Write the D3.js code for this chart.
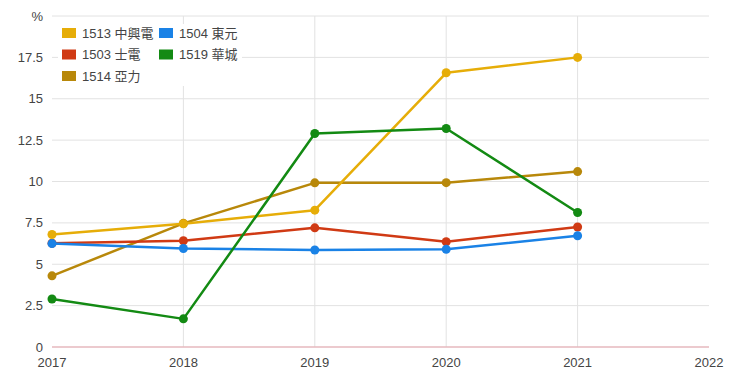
<!DOCTYPE html>
<html><head><meta charset="utf-8">
<script src="https://cdn.jsdelivr.net/npm/d3@7"></script>
<style>
body{margin:0;background:#fff;}
svg{display:block;font-family:Arial,"Liberation Sans","Noto Sans CJK TC",sans-serif;}
</style></head>
<body><svg id="c" width="740" height="377"></svg>
<script>
const years = [2017, 2018, 2019, 2020, 2021];
const xTicks = [2017, 2018, 2019, 2020, 2021, 2022];
const yTicks = [0, 2.5, 5, 7.5, 10, 12.5, 15, 17.5, 20];
const seriesNames = ["1513 中興電", "1504 東元", "1503 士電", "1519 華城", "1514 亞力"];
const seriesColors = ["#e6ad08", "#1a82e6", "#d03a14", "#138a13", "#b8880a"];
const s1513 = [6.8, 7.45, 8.27, 16.57, 17.5];
const s1504 = [6.25, 5.95, 5.86, 5.9, 6.72];
const s1503 = [6.27, 6.42, 7.2, 6.36, 7.25];
const s1519 = [2.9, 1.7, 12.9, 13.2, 8.13];
const s1514 = [4.3, 7.47, 9.92, 9.93, 10.6];
const seriesValues = [s1513, s1504, s1503, s1519, s1514];
const drawOrder = [4, 2, 1, 0, 3];

const svg = d3.select("#c");
const x = d3.scaleLinear().domain([2017, 2022]).range([52, 709]);
const y = d3.scaleLinear().domain([0, 20]).range([347, 16]);

// horizontal grid
svg.append("g").selectAll("line").data(yTicks.filter(d => d > 0)).join("line")
  .attr("x1", x(2017)).attr("x2", x(2022)).attr("y1", d => y(d)).attr("y2", d => y(d))
  .attr("stroke", "#e2e2e2").attr("stroke-width", 1);
// vertical grid
svg.append("g").selectAll("line").data(xTicks.filter(d => d > 2017 && d < 2022)).join("line")
  .attr("x1", d => x(d)).attr("x2", d => x(d)).attr("y1", y(20)).attr("y2", y(0))
  .attr("stroke", "#e2e2e2").attr("stroke-width", 1);
// zero line
svg.append("line").attr("x1", x(2017)).attr("x2", x(2022)).attr("y1", y(0)).attr("y2", y(0))
  .attr("stroke", "#e6b8be").attr("stroke-width", 1.5);

// y labels
svg.append("g").selectAll("text").data(yTicks).join("text")
  .attr("x", 43).attr("y", d => y(d)).attr("dy", "0.35em").attr("text-anchor", "end")
  .attr("font-size", 13).attr("fill", "#444")
  .text(d => d === 20 ? "%" : d3.format("~g")(d));
// x labels
svg.append("g").selectAll("text").data(xTicks).join("text")
  .attr("x", d => x(d)).attr("y", 367).attr("text-anchor", "middle")
  .attr("font-size", 13).attr("fill", "#444").text(d => d);

// legend background
svg.append("rect").attr("x", 58).attr("y", 24).attr("width", 184).attr("height", 62).attr("fill", "#fff");

// lines
const line = d3.line().x((d, i) => x(years[i])).y(d => y(d));
drawOrder.forEach(k => {
  const g = svg.append("g");
  g.append("path").datum(seriesValues[k]).attr("d", line).attr("fill", "none")
    .attr("stroke", seriesColors[k]).attr("stroke-width", 2.5).attr("stroke-linejoin", "round");
  g.selectAll("circle").data(seriesValues[k]).join("circle")
    .attr("cx", (d, i) => x(years[i])).attr("cy", d => y(d)).attr("r", 4.5)
    .attr("fill", seriesColors[k]);
});

// legend
const legPos = [[62, 33], [159, 33], [62, 54.5], [159, 54.5], [62, 76]];
const leg = svg.append("g");
seriesNames.forEach((n, k) => {
  const [lx, ly] = legPos[k];
  leg.append("rect").attr("x", lx).attr("y", ly - 5).attr("width", 14).attr("height", 10)
    .attr("fill", seriesColors[k]);
  leg.append("text").attr("x", lx + 20).attr("y", ly).attr("dy", "0.35em")
    .attr("font-size", 13).attr("fill", "#444").text(n);
});
</script></body></html>
